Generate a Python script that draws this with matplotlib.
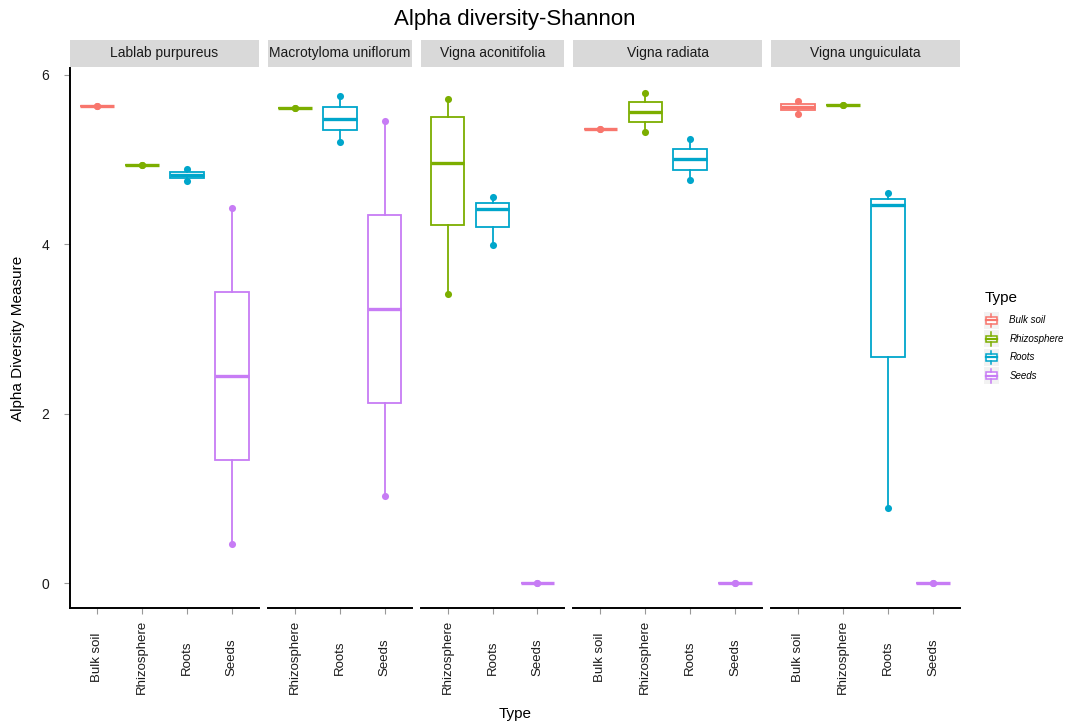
import matplotlib
matplotlib.use('Agg')
import matplotlib.pyplot as plt
from matplotlib.legend_handler import HandlerBase
from matplotlib.patches import Rectangle, Patch
from matplotlib.lines import Line2D

plt.rcParams['font.family'] = ['Liberation Sans', 'DejaVu Sans']

# Shannon index per sample, grouped by plant species and compartment
species = ['Lablab purpureus', 'Macrotyloma uniflorum', 'Vigna aconitifolia',
           'Vigna radiata', 'Vigna unguiculata']
types = ['Bulk soil', 'Rhizosphere', 'Roots', 'Seeds']
type_colors = ['#F8766D', '#7CAE00', '#00A6CB', '#C77CF5']

lablab = {'Bulk soil': [5.63, 5.63],
          'Rhizosphere': [4.93, 4.93],
          'Roots': [4.74, 4.885],
          'Seeds': [0.466, 4.43]}
macrotyloma = {'Rhizosphere': [5.60, 5.60],
               'Roots': [5.21, 5.75],
               'Seeds': [1.025, 5.456]}
aconitifolia = {'Rhizosphere': [3.413, 4.493, 5.427, 5.71],
                'Roots': [3.992, 4.418, 4.56],
                'Seeds': [0.0, 0.0]}
radiata = {'Bulk soil': [5.358, 5.358],
           'Rhizosphere': [5.323, 5.788],
           'Roots': [4.755, 5.245],
           'Seeds': [0.0, 0.0]}
unguiculata = {'Bulk soil': [5.54, 5.69],
               'Rhizosphere': [5.645, 5.645],
               'Roots': [0.889, 4.458, 4.606],
               'Seeds': [0.0, 0.0]}
panels = [lablab, macrotyloma, aconitifolia, radiata, unguiculata]

W, H = 1074, 727
fig = plt.figure(figsize=(W / 100, H / 100), dpi=100)

left, right = 70 / W, 960 / W
bottom, top = 1 - 608 / H, 1 - 68 / H
gap = 9 / W
spans = [len(p) + 0.2 for p in panels]
unit = (right - left - gap * (len(panels) - 1)) / sum(spans)
ylo, yhi = -0.29, 6.077

x0 = left
for i, (name, data) in enumerate(zip(species, panels)):
    w = spans[i] * unit
    ax = fig.add_axes([x0, bottom, w, top - bottom])
    # grey facet strip on top of the panel
    sax = fig.add_axes([x0, 1 - 66.5 / H, w, 27 / H])
    sax.set_facecolor('#D9D9D9')
    for s in sax.spines.values():
        s.set_visible(False)
    sax.set_xticks([])
    sax.set_yticks([])
    sax.text(0.5, 0.5, name, ha='center', va='center', fontsize=10, color='#1a1a1a',
             transform=sax.transAxes)
    x0 += w + gap

    cats = list(data.keys())
    for j, cat in enumerate(cats):
        col = type_colors[types.index(cat)]
        vals = data[cat]
        pos = j + 1
        ax.scatter([pos] * len(vals), vals, s=26, color=col, linewidths=0, zorder=1)
        ax.boxplot([vals], positions=[pos], widths=0.75, patch_artist=True,
                   showcaps=False, showfliers=False, zorder=2,
                   boxprops=dict(facecolor='white', edgecolor=col, linewidth=1.3),
                   whiskerprops=dict(color=col, linewidth=1.3),
                   medianprops=dict(color=col, linewidth=2.4))

    ax.set_xlim(0.4, len(cats) + 0.6)
    ax.set_ylim(ylo, yhi)
    ax.set_xticks(range(1, len(cats) + 1))
    ax.set_xticklabels(cats, rotation=90, va='center', ha='center', fontsize=9.5, color='#1a1a1a')
    ax.tick_params(axis='x', length=4, color='#999999', pad=31.5)
    for s in ['top', 'right']:
        ax.spines[s].set_visible(False)
    ax.spines['bottom'].set_linewidth(1.4)
    if i == 0:
        ax.spines['left'].set_linewidth(1.4)
        ax.set_yticks([0, 2, 4, 6])
        ax.tick_params(axis='y', length=4, color='#999999', labelsize=10, labelcolor='#1a1a1a', pad=11)
    else:
        ax.spines['left'].set_visible(False)
        ax.set_yticks([])

fig.text(18 / W, 1 - 338 / H, 'Alpha Diversity Measure', rotation=90, ha='center', va='center', fontsize=11)
fig.text(515 / W, 1 - 714 / H, 'Type', ha='center', va='center', fontsize=11)
fig.text(515 / W, 1 - 19 / H, 'Alpha diversity-Shannon', ha='center', va='center', fontsize=16)


class BoxKey(HandlerBase):
    # small boxplot glyph for the legend keys
    def create_artists(self, legend, orig_handle, xdescent, ydescent, width, height, fontsize, trans):
        col = orig_handle.get_edgecolor()
        x0, y0 = -xdescent, -ydescent
        cx = x0 + width / 2
        arts = [Rectangle((x0, y0), width, height, facecolor='#F2F2F2', edgecolor='none', transform=trans)]
        bw, bh = width * 0.72, height * 0.4
        arts.append(Rectangle((cx - bw / 2, y0 + (height - bh) / 2), bw, bh, facecolor='white',
                              edgecolor=col, lw=1.1, transform=trans))
        arts.append(Line2D([cx - bw / 2, cx + bw / 2], [y0 + height / 2] * 2, color=col, lw=1.6, transform=trans))
        arts.append(Line2D([cx, cx], [y0 + height * 0.1, y0 + (height - bh) / 2], color=col, lw=1.1, transform=trans))
        arts.append(Line2D([cx, cx], [y0 + (height + bh) / 2, y0 + height * 0.9], color=col, lw=1.1, transform=trans))
        return arts


# legend title drawn on its own so the gap to the keys matches ggplot's
fig.text(985 / W, 1 - 298 / H, 'Type', ha='left', va='center', fontsize=11)
handles = [Patch(edgecolor=c, facecolor='white') for c in type_colors]
leg = fig.legend(handles, types, loc='upper left', bbox_to_anchor=(984 / W, 1 - 312 / H),
                 frameon=False, prop=dict(size=7, style='italic'), handler_map={Patch: BoxKey()},
                 handlelength=1.5, handleheight=2.3, labelspacing=0.16, handletextpad=1.1,
                 borderpad=0, borderaxespad=0)

fig.savefig('out.png', dpi=100)
